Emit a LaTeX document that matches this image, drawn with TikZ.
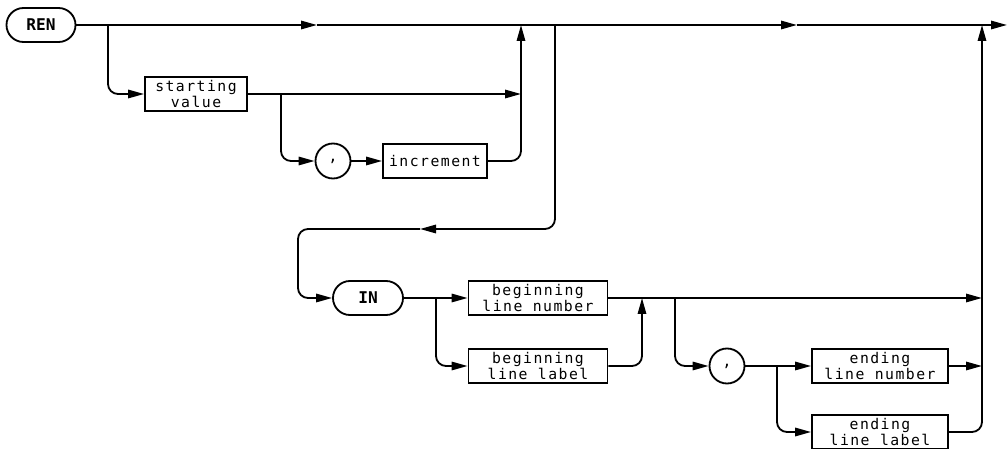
\documentclass[tikz,border=0pt]{standalone}
\usepackage{fontspec}
\newfontfamily\plotfont[LetterSpace=10]{DejaVu Sans Mono}
\newfontfamily\keyfont{DejaVu Sans Mono}
\usetikzlibrary{arrows.meta}

\tikzset{
  wire/.style={line width=1.3pt},
  flow/.style={wire, -{Triangle[length=4mm,width=2.1mm]}},
  item/.style={draw, wire, minimum height=8.5mm, inner sep=1pt, align=center,
    font=\plotfont\fontsize{10.5}{11}\selectfont},
  keyword/.style={draw, wire, rounded corners=4.25mm, minimum height=8.5mm,
    minimum width=17.25mm, font=\keyfont\bfseries\fontsize{11.5}{12}\selectfont},
  punct/.style={draw, wire, circle, minimum size=8.75mm, inner sep=0pt,
    font=\plotfont\fontsize{11}{11}\selectfont},
}

\begin{document}
\begin{tikzpicture}[x=0.25mm, y=-0.25mm]
  \useasboundingbox (0,0) rectangle (1008,449);

  \node[keyword] (ren) at (41,25) {REN};
  \node[item, minimum width=25.5mm] (start) at (196,94) {starting\\value};
  \node[punct] (comma1) at (333,161) {,};
  \node[item, minimum width=26mm] (incr) at (435,161) {increment};
  \node[keyword, minimum width=17.5mm] (in) at (368,298) {IN};
  \node[item, minimum width=34.75mm] (begnum) at (538,298) {beginning\\line number};
  \node[item, minimum width=34.75mm] (beglab) at (538,366) {beginning\\line label};
  \node[punct] (comma2) at (727,366) {,};
  \node[item, minimum width=34mm] (endnum) at (880,366) {ending\\line number};
  \node[item, minimum width=34mm] (endlab) at (880,432) {ending\\line label};

  \coordinate (j1) at (108,25);
  \coordinate (j2) at (521,25);
  \coordinate (j3) at (555,25);
  \coordinate (j4) at (982,25);
  \coordinate (m1) at (317,25);
  \coordinate (m2) at (797,25);
  \coordinate (exit) at (1007,25);
  \coordinate (k1) at (281,94);
  \coordinate (k2) at (521,94);
  \coordinate (loopm) at (420,229);
  \coordinate (loopl) at (298,229);
  \coordinate (b1) at (436,298);
  \coordinate (b2) at (642,298);
  \coordinate (b3) at (675,298);
  \coordinate (b4) at (982,298);
  \coordinate (e1) at (777,366);
  \coordinate (e2) at (982,366);

  \draw[flow] (ren.east) -- (m1);
  \draw[flow] (m1) -- (m2);
  \draw[flow] (m2) -- (exit);
  \draw[flow, rounded corners=2.5mm] (j1) |- (start.west);
  \draw[flow] (start.east) -- (k2);
  \draw[flow, rounded corners=2.5mm] (k1) |- (comma1.west);
  \draw[flow] (comma1.east) -- (incr.west);
  \draw[flow, rounded corners=2.5mm] (incr.east) -| (j2);

  \draw[flow, rounded corners=2.5mm] (j3) |- (loopm);
  \draw[flow, rounded corners=2.5mm] (loopm) -- (loopl) |- (in.west);
  \draw[flow] (in.east) -- (begnum.west);
  \draw[flow, rounded corners=2.5mm] (b1) |- (beglab.west);
  \draw[flow, rounded corners=2.5mm] (beglab.east) -| (b2);
  \draw[flow] (begnum.east) -- (b4);

  \draw[flow, rounded corners=2.5mm] (b3) |- (comma2.west);
  \draw[flow] (comma2.east) -- (endnum.west);
  \draw[flow, rounded corners=2.5mm] (e1) |- (endlab.west);
  \draw[flow] (endnum.east) -- (e2);
  \draw[flow, rounded corners=2.5mm] (endlab.east) -| (j4);
\end{tikzpicture}
\end{document}
